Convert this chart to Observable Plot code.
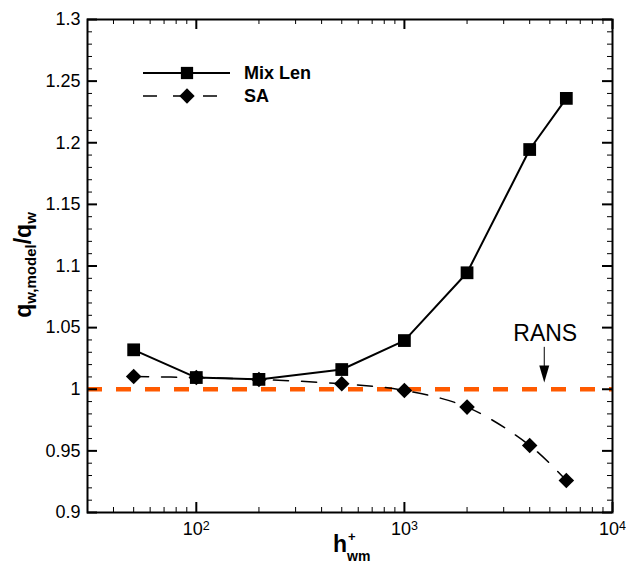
<!DOCTYPE html>
<html>
<head>
<meta charset="utf-8">
<script src="https://cdn.jsdelivr.net/npm/d3@7"></script>
<script src="https://cdn.jsdelivr.net/npm/@observablehq/plot@0.6"></script>
<style>
  html, body { margin: 0; padding: 0; background: #fff; }
  #chart svg { display: block; font-family: "Liberation Sans", Arial, Helvetica, sans-serif; }
</style>
</head>
<body>
<div id="chart"></div>
<script>
// Wall-model height h+_wm and the normalised wall heat flux for each model
const hwm    = [50, 100, 200, 500, 1000, 2000, 4000, 6000];
const mixLen = [1.032, 1.0095, 1.008, 1.016, 1.0395, 1.0945, 1.1945, 1.236];
const sa     = [1.0103, 1.0095, 1.0079, 1.0044, 0.999, 0.9855, 0.9544, 0.926];

// Reference RANS level and its annotation
const ransLevel   = 1;
const ransLabel   = "RANS";
const ransLabelX  = 4750;
const ransLabelY  = 1.045;
const ransArrowX  = 4700;
const ransArrowY1 = 1.034;
const ransArrowY2 = 1.0055;

// Tick positions
const yMajor = [0.9, 0.95, 1, 1.05, 1.1, 1.15, 1.2, 1.25, 1.3];
const yMinor = [0.91, 0.92, 0.93, 0.94, 0.96, 0.97, 0.98, 0.99, 1.01, 1.02, 1.03, 1.04,
                1.06, 1.07, 1.08, 1.09, 1.11, 1.12, 1.13, 1.14, 1.16, 1.17, 1.18, 1.19,
                1.21, 1.22, 1.23, 1.24, 1.26, 1.27, 1.28, 1.29];
const xMajor = [100, 1000, 10000];
const xMinor = [40, 50, 60, 70, 80, 90, 200, 300, 400, 500, 600, 700, 800, 900,
                2000, 3000, 4000, 5000, 6000, 7000, 8000, 9000];

const seriesNames = ["Mix Len", "SA"];
const orange = "#ff5a00";

const mixRows = hwm.map((h, i) => ({h, v: mixLen[i]}));
const saRows  = hwm.map((h, i) => ({h, v: sa[i]}));

// Layout of the plotting frame
const W = 626, H = 563, mL = 87, mR = 14, mT = 19, mB = 51;
const xDomain = [30, 10000], yDomain = [0.9, 1.3];

// Same mapping as the chart's own scales, used to express tick lengths in data units
const xPix = d3.scaleLog(xDomain, [mL, W - mR]);
const yPix = d3.scaleLinear(yDomain, [H - mB, mT]);

// Inward tick segments: each row runs from the frame edge to a point len pixels inside
const yTickRows = (ticks, len, w) => ticks.flatMap(v => [
  {x1: xDomain[0], x2: xPix.invert(mL + len), y: v, w},
  {x1: xDomain[1], x2: xPix.invert(W - mR - len), y: v, w}
]);
const xTickRows = (ticks, len, w) => ticks.flatMap(v => [
  {y1: yDomain[0], y2: yPix.invert(H - mB - len), x: v, w},
  {y1: yDomain[1], y2: yPix.invert(mT + len), x: v, w}
]);
const yTicks = [...yTickRows(yMinor, 5, 1), ...yTickRows(yMajor, 10, 2)];
const xTicks = [...xTickRows(xMinor, 5, 1), ...xTickRows(xMajor, 10, 2)];

// Filled, elongated arrowhead whose tip sits at the anchor point
const arrowHead = {
  draw(ctx) {
    ctx.moveTo(0, 0);
    ctx.lineTo(-5, -17);
    ctx.lineTo(5, -17);
    ctx.closePath();
  }
};

const yFmt = d => String(+d.toFixed(2));

const plot = Plot.plot({
  width: W,
  height: H,
  marginLeft: mL,
  marginRight: mR,
  marginTop: mT,
  marginBottom: mB,
  x: {type: "log", domain: xDomain},
  y: {domain: yDomain},
  style: {background: "#fff", color: "#000", fontSize: "18px",
          fontFamily: "'Liberation Sans', Arial, Helvetica, sans-serif"},
  marks: [
    // tick labels
    Plot.axisY(yMajor, {anchor: "left", tickSize: 0, tickPadding: 7, tickFormat: yFmt,
                        label: null, fontSize: 18}),
    Plot.axisX(xMajor, {anchor: "bottom", tickSize: 0, tickPadding: 10,
                        tickFormat: d => "10^" + Math.round(Math.log10(d)),
                        label: null, fontSize: 18}),
    // RANS reference level
    Plot.ruleY([ransLevel], {stroke: orange, strokeWidth: 4.5, strokeDasharray: "15,14"}),
    // SA: smooth dashed curve with diamonds
    Plot.line(saRows, {x: "h", y: "v", stroke: "#000", strokeWidth: 1.5,
                       strokeDasharray: "15,13", curve: "catmull-rom"}),
    Plot.dot(saRows, {x: "h", y: "v", symbol: "diamond2", r: 7, fill: "#000", stroke: "none"}),
    // Mixing length: solid polyline with squares
    Plot.line(mixRows, {x: "h", y: "v", stroke: "#000", strokeWidth: 2}),
    Plot.dot(mixRows, {x: "h", y: "v", symbol: "square", r: 7.2, fill: "#000", stroke: "none"}),
    // RANS annotation
    Plot.ruleX([ransArrowX], {y1: ransArrowY1, y2: ransArrowY2 + 0.01, stroke: "#000", strokeWidth: 1}),
    Plot.dot([{x: ransArrowX, y: ransArrowY2}], {x: "x", y: "y", symbol: arrowHead, fill: "#000", stroke: "none"}),
    Plot.text([{x: ransLabelX, y: ransLabelY, t: ransLabel}], {x: "x", y: "y", text: "t",
                fontSize: 23, textAnchor: "middle", fill: "#000"}),
    Plot.frame({stroke: "#000", strokeWidth: 2}),
    // inward ticks on all four sides
    Plot.ruleY(yTicks, {y: "y", x1: "x1", x2: "x2", stroke: "#000", strokeWidth: "w"}),
    Plot.ruleX(xTicks, {x: "x", y1: "y1", y2: "y2", stroke: "#000", strokeWidth: "w"})
  ]
});

const svg = d3.select(plot);

// Powers of ten with a raised exponent
svg.selectAll("g[aria-label='x-axis tick label'] text").each(function () {
  const t = d3.select(this);
  const s = t.text();
  if (!s.includes("^")) return;
  const [base, exp] = s.split("^");
  t.text(null);
  t.append("tspan").text(base);
  t.append("tspan").attr("dy", "-0.45em").attr("font-size", "12.5px").text(exp);
});

// Legend
const lg = svg.append("g").attr("aria-label", "legend").attr("text-anchor", "start");
const legendRows = [
  {name: seriesNames[0], y: 73, dash: null, width: 2, sym: d3.symbolSquare, size: 150},
  {name: seriesNames[1], y: 96, dash: "14,16", width: 1.5, sym: d3.symbolDiamond2, size: 150}
];
legendRows.forEach(r => {
  lg.append("line").attr("x1", 143).attr("x2", 230).attr("y1", r.y).attr("y2", r.y)
    .attr("stroke", "#000").attr("stroke-width", r.width)
    .attr("stroke-dasharray", r.dash);
  lg.append("path").attr("d", d3.symbol(r.sym, r.size)())
    .attr("transform", `translate(187,${r.y})`).attr("fill", "#000");
  lg.append("text").attr("x", 244).attr("y", r.y).attr("dy", "0.36em")
    .attr("font-size", 18).attr("font-weight", "bold").text(r.name);
});

// Axis titles
const yt = svg.append("text")
  .attr("transform", "translate(31,265) rotate(-90)")
  .attr("text-anchor", "middle").attr("font-weight", "bold").attr("font-size", 23);
yt.append("tspan").text("q");
yt.append("tspan").attr("font-size", 15).attr("dy", 5).text("w,model");
yt.append("tspan").attr("dy", -5).text("/q");
yt.append("tspan").attr("font-size", 15).attr("dy", 5).text("w");

const xt = svg.append("g").attr("font-weight", "bold").attr("text-anchor", "start");
xt.append("text").attr("x", 333).attr("y", 552).attr("font-size", 23).text("h");
xt.append("text").attr("x", 348).attr("y", 541).attr("font-size", 13).text("+");
xt.append("text").attr("x", 347).attr("y", 561).attr("font-size", 14).text("wm");

document.getElementById("chart").appendChild(plot);
</script>
</body>
</html>
